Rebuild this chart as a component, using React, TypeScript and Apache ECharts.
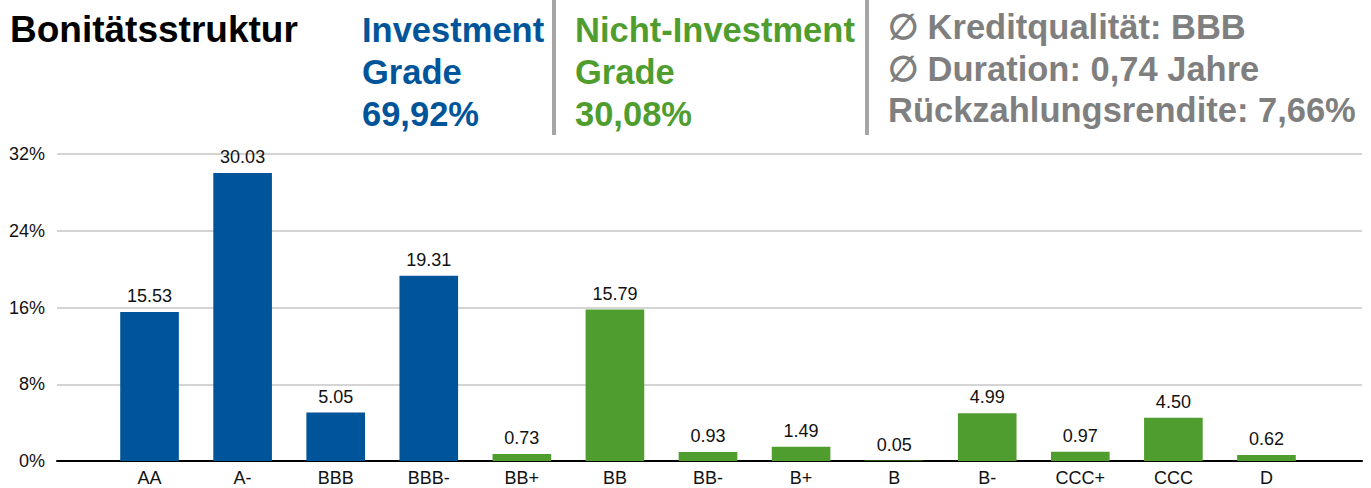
import React, { useEffect, useRef } from "react";
import * as echarts from "echarts";

const categories = ["AA", "A-", "BBB", "BBB-", "BB+", "BB", "BB-", "B+", "B", "B-", "CCC+", "CCC", "D"];
const investmentValues = [15.53, 30.03, 5.05, 19.31, null, null, null, null, null, null, null, null, null];
const nonInvestmentValues = [null, null, null, null, 0.73, 15.79, 0.93, 1.49, 0.05, 4.99, 0.97, 4.5, 0.62];
const yTicks = { min: 0, max: 32, interval: 8 };

const titleText = "Bonitätsstruktur";
const investmentLines = ["Investment", "Grade", "69,92%"];
const nonInvestmentLines = ["Nicht-Investment", "Grade", "30,08%"];
const infoLines = ["∅ Kreditqualität: BBB", "∅ Duration: 0,74 Jahre", "Rückzahlungsrendite: 7,66%"];

const BLUE = "#00559A";
const GREEN = "#4F9D2F";
const GRAY = "#7F7F7F";
const SANS = '"Liberation Sans", Arial, sans-serif';
const BOLD = 'bold 34.5px "Liberation Sans", Arial, sans-serif';

export default function App() {
  const ref = useRef<HTMLDivElement>(null);
  useEffect(() => {
    if (!ref.current) return;
    const chart = echarts.init(ref.current, null, { renderer: "svg" });
    const lineYs = [30, 72, 114];
    const infoYs = [27, 69, 110];
    const texts: any[] = [
      { type: "text", x: 10, y: 29, style: { text: titleText, font: 'bold 37px "Liberation Sans", Arial, sans-serif', fill: "#000", verticalAlign: "middle" } },
      ...investmentLines.map((t, i) => ({ type: "text", x: 362, y: lineYs[i], style: { text: t, font: BOLD, fill: BLUE, verticalAlign: "middle" } })),
      ...nonInvestmentLines.map((t, i) => ({ type: "text", x: 575, y: lineYs[i], style: { text: t, font: BOLD, fill: GREEN, verticalAlign: "middle" } })),
      ...infoLines.map((t, i) => ({ type: "text", x: 888, y: infoYs[i], style: { text: t, font: BOLD, fill: GRAY, verticalAlign: "middle" } })),
      { type: "line", shape: { x1: 554, y1: 0, x2: 554, y2: 135 }, style: { stroke: "#A6A6A6", lineWidth: 4 } },
      { type: "line", shape: { x1: 867, y1: 0, x2: 867, y2: 135 }, style: { stroke: "#A6A6A6", lineWidth: 4 } },
    ];
    const labelCfg = {
      show: true,
      position: "top",
      distance: 7,
      color: "#111",
      fontFamily: SANS,
      fontSize: 18,
      formatter: (p: any) => (p.value == null ? "" : Number(p.value).toFixed(2)),
    };
    chart.setOption({
      animation: false,
      grid: [
        { left: 57, right: 9, top: 154, bottom: 27 },
        { left: 103, right: 58, top: 154, bottom: 27 },
      ],
      xAxis: [
        {
          type: "value", gridIndex: 0, min: 0, max: 1,
          axisLine: { show: true, lineStyle: { color: "#000", width: 2 } },
          axisTick: { show: false }, axisLabel: { show: false }, splitLine: { show: false },
        },
        {
          type: "category", gridIndex: 1, data: categories,
          axisLine: { show: false }, axisTick: { show: false },
          axisLabel: { color: "#111", fontFamily: SANS, fontSize: 18, margin: 8 },
        },
      ],
      yAxis: [
        {
          type: "value", gridIndex: 0, min: yTicks.min, max: yTicks.max, interval: yTicks.interval,
          axisLine: { show: false }, axisTick: { show: false },
          axisLabel: { formatter: "{value}%", color: "#111", fontFamily: SANS, fontSize: 18, margin: 12 },
          splitLine: { show: true, lineStyle: { color: "#D4D4D4", width: 2 } },
        },
        { type: "value", gridIndex: 1, min: yTicks.min, max: yTicks.max, interval: yTicks.interval, show: false },
      ],
      series: [
        {
          type: "bar", xAxisIndex: 1, yAxisIndex: 1, data: investmentValues.map((v) => (v == null ? "-" : v)),
          barWidth: "63%", barGap: "-100%", itemStyle: { color: BLUE }, label: labelCfg, z: 3,
        },
        {
          type: "bar", xAxisIndex: 1, yAxisIndex: 1, data: nonInvestmentValues.map((v) => (v == null ? "-" : v)),
          barWidth: "63%", barGap: "-100%", itemStyle: { color: GREEN }, label: labelCfg, z: 3,
        },
      ],
      graphic: texts,
    });
    return () => chart.dispose();
  }, []);
  return <div ref={ref} style={{ position: "absolute", left: 0, top: 0, width: 1371, height: 488, background: "#fff" }} />;
}
